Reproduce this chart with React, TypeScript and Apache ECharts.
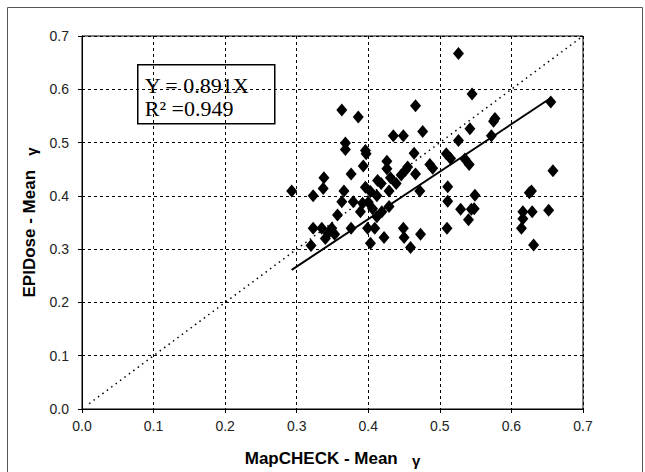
import React, { useEffect, useRef } from "react";
import * as echarts from "echarts";

const mapcheckX = [
  0.293, 0.323, 0.32, 0.323, 0.335, 0.338, 0.337, 0.34, 0.349, 0.353,
  0.357, 0.363, 0.366, 0.363, 0.368, 0.368, 0.376, 0.376, 0.379, 0.386,
  0.389, 0.392, 0.393, 0.396, 0.397, 0.396, 0.4, 0.399, 0.403, 0.406,
  0.409, 0.412, 0.412, 0.418, 0.419, 0.422, 0.426, 0.426, 0.429, 0.429,
  0.431, 0.435, 0.439, 0.449, 0.446, 0.449, 0.45, 0.455, 0.459, 0.464,
  0.466, 0.466, 0.472, 0.473, 0.476, 0.486, 0.49, 0.509, 0.511, 0.511,
  0.51, 0.515, 0.526, 0.526, 0.529, 0.535, 0.54, 0.541, 0.542, 0.544,
  0.545, 0.548, 0.549, 0.572, 0.575, 0.577, 0.614, 0.616, 0.616, 0.625,
  0.628, 0.629, 0.631, 0.652, 0.655, 0.658, 0.403, 0.413, 0.344, 0.452
];
const epidoseY = [
  0.409, 0.4, 0.307, 0.339, 0.339, 0.434, 0.414, 0.32, 0.339, 0.328,
  0.364, 0.561, 0.409, 0.389, 0.499, 0.487, 0.441, 0.339, 0.389, 0.548,
  0.37, 0.386, 0.456, 0.485, 0.479, 0.416, 0.388, 0.339, 0.311, 0.376,
  0.339, 0.4, 0.361, 0.423, 0.37, 0.322, 0.465, 0.451, 0.409, 0.38,
  0.434, 0.513, 0.423, 0.513, 0.439, 0.339, 0.322, 0.454, 0.303, 0.48,
  0.569, 0.441, 0.409, 0.328, 0.521, 0.459, 0.452, 0.479, 0.417, 0.39,
  0.339, 0.47, 0.667, 0.504, 0.375, 0.469, 0.355, 0.459, 0.526, 0.375,
  0.591, 0.376, 0.401, 0.513, 0.54, 0.545, 0.339, 0.357, 0.37, 0.406,
  0.409, 0.37, 0.308, 0.373, 0.576, 0.447, 0.408, 0.429, 0.33, 0.448
];
const slope = 0.891;
const rSquared = 0.949;
const fitRange = [0.293, 0.655];
const identityRange = [0.01, 0.7];
const axisMin = 0;
const axisMax = 0.7;
const axisStep = 0.1;

export default function App() {
  const ref = useRef<HTMLDivElement>(null);
  useEffect(() => {
    const chart = echarts.init(ref.current!, null, { renderer: "svg" });
    const points = mapcheckX.map((x, i) => [x, epidoseY[i]]);
    const fitLine = fitRange.map((x) => [x, slope * x]);
    const idLine = identityRange.map((x) => [x, x]);
    const nameStyle = {
      color: "#000",
      fontFamily: "Liberation Sans",
      fontWeight: "bold",
      fontSize: 17,
      rich: {
        g: {
          fontFamily: "Liberation Sans",
          fontWeight: "bold",
          fontSize: 15,
          color: "#000",
          padding: [4, 0, 0, 0],
        },
      },
    };
    const axisCommon = {
      type: "value",
      min: axisMin,
      max: axisMax,
      interval: axisStep,
      axisLine: { show: true, onZero: false, lineStyle: { color: "#000", width: 1 } },
      axisTick: { show: true, inside: false, length: 4, lineStyle: { color: "#000" } },
      splitLine: { show: true, lineStyle: { color: "#000", type: [3, 3], width: 1 } },
      nameLocation: "middle",
      nameTextStyle: nameStyle,
    };
    const labelStyle = {
      color: "#222",
      fontFamily: "Liberation Sans",
      fontSize: 14,
      formatter: (v: number) => v.toFixed(1),
    };
    chart.setOption({
      animation: false,
      backgroundColor: "#fff",
      grid: {
        left: 82,
        right: 62,
        top: 36,
        bottom: 63,
        show: true,
        borderColor: "#000",
        borderWidth: 1,
        containLabel: false,
        outerBoundsMode: "none",
      },
      xAxis: {
        ...axisCommon,
        name: "MapCHECK - Mean   {g|γ}",
        nameGap: 40,
        axisLabel: { ...labelStyle, margin: 10 },
      },
      yAxis: {
        ...axisCommon,
        name: "EPIDose - Mean   {g|γ}",
        nameGap: 42,
        axisLabel: { ...labelStyle, margin: 13 },
      },
      series: [
        {
          type: "line",
          data: idLine,
          symbol: "none",
          lineStyle: { color: "#000", width: 1.5, type: [1.5, 4] },
          z: 2,
        },
        {
          type: "scatter",
          data: points,
          symbol: "diamond",
          symbolSize: [11, 13],
          itemStyle: { color: "#000", opacity: 1 },
          z: 3,
        },
        {
          type: "line",
          data: fitLine,
          symbol: "none",
          lineStyle: { color: "#000", width: 2 },
          z: 4,
        },
      ],
      graphic: [
        {
          type: "rect",
          left: 5,
          top: 5,
          shape: { x: 0, y: 0, width: 635, height: 475 },
          style: { fill: "none", stroke: "#555", lineWidth: 1 },
          silent: true,
        },
        {
          type: "group",
          left: 137,
          top: 64,
          z: 10,
          children: [
            {
              type: "rect",
              shape: { x: 0, y: 0, width: 137, height: 59 },
              style: { fill: "#fff", stroke: "#000", lineWidth: 1.5 },
            },
            {
              type: "text",
              x: 7,
              y: 21,
              style: {
                text: "Y = " + slope.toFixed(3) + "X",
                fill: "#000",
                font: "22px 'Liberation Serif'",
                verticalAlign: "middle",
              },
            },
            {
              type: "text",
              x: 7,
              y: 44,
              style: {
                text: "R² =" + rSquared.toFixed(3),
                fill: "#000",
                font: "22px 'Liberation Serif'",
                verticalAlign: "middle",
              },
            },
          ],
        },
      ],
    });
    return () => chart.dispose();
  }, []);
  return (
    <div
      ref={ref}
      style={{ position: "absolute", left: 0, top: 0, width: 645, height: 472, background: "#fff" }}
    />
  );
}
